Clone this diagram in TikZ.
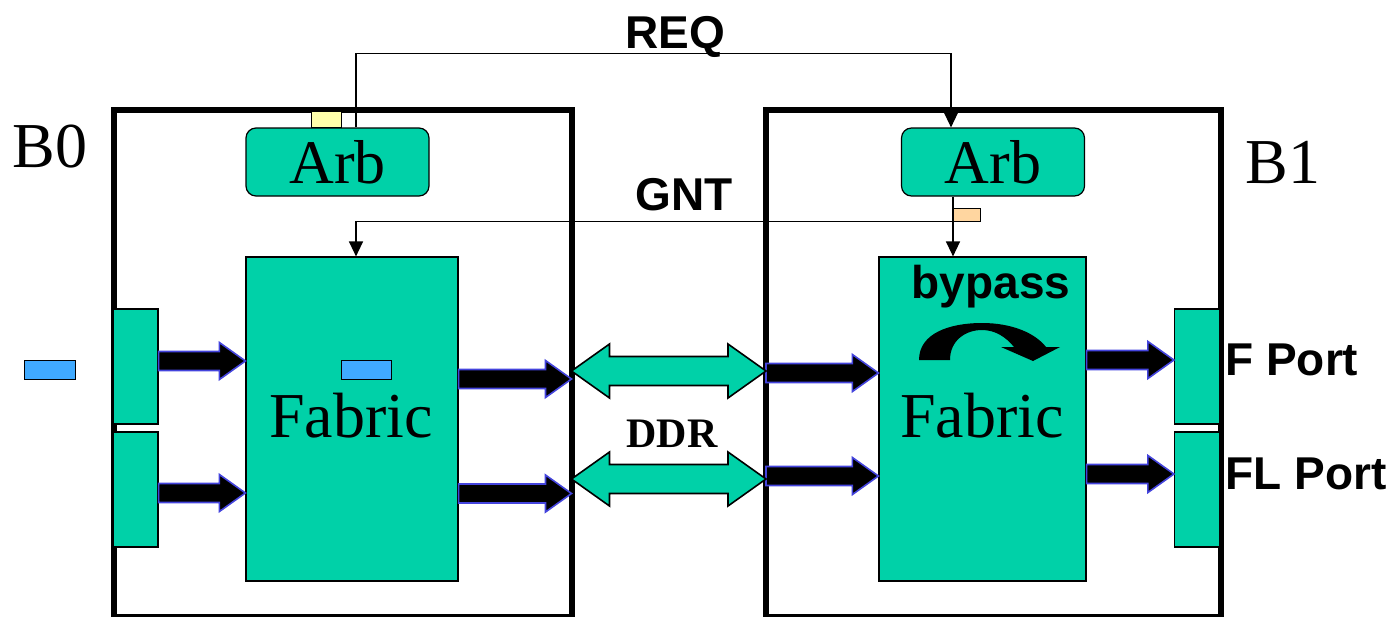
\documentclass[tikz,border=0pt]{standalone}
\usepackage{fontspec}
\setmainfont{Liberation Serif}
\setsansfont{Liberation Sans}
\usetikzlibrary{arrows.meta,calc}

\definecolor{fabgreen}{RGB}{0,209,168}
\definecolor{reqyellow}{RGB}{255,255,170}
\definecolor{gntorange}{RGB}{255,214,160}
\definecolor{bufblue}{RGB}{64,170,255}
\definecolor{edgeblue}{RGB}{68,68,221}

\tikzset{
  blade/.style={draw,line width=3pt,inner sep=0pt,outer sep=0pt},
  unitbox/.style={draw,fill=fabgreen,line width=0.6pt,inner sep=0pt},
  arbbox/.style={unitbox,rounded corners=5pt,minimum width=91.5pt,minimum height=34pt,font=\fontsize{31}{36}\selectfont},
  fabbox/.style={unitbox,minimum height=162pt},
  portbox/.style={unitbox,minimum width=22.5pt,minimum height=57.5pt},
  flagbox/.style={draw,line width=0.5pt,inner sep=0pt},
  sig/.style={line width=0.7pt,-{Triangle[length=7.5pt,width=7pt]}},
  fatarrow/.style={fill=black,draw=edgeblue,line width=0.8pt},
  ddrarrow/.style={fill=fabgreen,draw=black,line width=0.8pt},
  serifcap/.style={font=\fontsize{32}{38}\selectfont,inner sep=0pt},
  ddrtext/.style={font=\bfseries\fontsize{21}{25}\selectfont,inner sep=0pt},
  sigtag/.style={font=\sffamily\bfseries\fontsize{23}{27}\selectfont,inner sep=0pt},
}

% horizontal block arrow: starts at #1, tip at the x of #2
\newcommand{\fatarrow}[2]{%
  \draw[fatarrow] let \p1=(#1), \p2=(#2) in
    (\x1,\y1+4.75pt) -- (\x2-13pt,\y1+4.75pt) -- (\x2-13pt,\y1+9.25pt) -- (\x2,\y1)
    -- (\x2-13pt,\y1-9.25pt) -- (\x2-13pt,\y1-4.75pt) -- (\x1,\y1-4.75pt) -- cycle;}
\newcommand{\ddrarrow}[2]{%
  \draw[ddrarrow] let \p1=(#1), \p2=(#2) in
    (\x1,\y1) -- (\x1+19pt,\y1+13.5pt) -- (\x1+19pt,\y1+7.25pt) -- (\x2-19pt,\y1+7.25pt)
    -- (\x2-19pt,\y1+13.5pt) -- (\x2,\y1) -- (\x2-19pt,\y1-13.5pt) -- (\x2-19pt,\y1-7.25pt)
    -- (\x1+19pt,\y1-7.25pt) -- (\x1+19pt,\y1-13.5pt) -- cycle;}

\begin{document}
\begin{tikzpicture}[x=0.5pt,y=-0.5pt]
  \useasboundingbox (0,0) rectangle (1391,616);
  % blades
  \node[blade,minimum width=229pt,minimum height=253.5pt] (b0) at (342.5,363.5) {};
  \node[blade,minimum width=227.25pt,minimum height=253.5pt] (b1) at (993.25,363.5) {};
  \node[serifcap,anchor=base west] (b0lbl) at (12,167) {B0};
  \node[serifcap,anchor=base west] (b1lbl) at (1245,183) {B1};
  % arbiters, fabrics, ports
  \node[arbbox] (arb0) at (337.5,162) {Arb};
  \node[arbbox] (arb1) at (993,162) {Arb};
  \node[fabbox,minimum width=106pt] (fab0) at (352,419) {};
  \node[fabbox,minimum width=103.5pt] (fab1) at (982.5,419) {};
  \node[serifcap,anchor=base] (fab0lbl) at (351,437) {Fabric};
  \node[serifcap,anchor=base] (fab1lbl) at (982,437) {Fabric};
  \node[portbox] (p0a) at (135.5,366.5) {};
  \node[portbox] (p0b) at (135.5,489.5) {};
  \node[portbox] (p1a) at (1197,366.5) {};
  \node[portbox] (p1b) at (1197,489.5) {};

  % REQ / GNT
  \draw[sig] ([xshift=9.25pt]arb0.north) -- ++(0,-74) -| ([xshift=-21pt]arb1.north);
  \draw[sig] ([xshift=-20pt]arb1.south) coordinate (g1) -- (g1 |- fab1.north);
  \node[flagbox,fill=reqyellow,minimum width=15pt,minimum height=8pt] (reqflag) at (326,119) {};
  \node[flagbox,fill=gntorange,minimum width=13.5pt,minimum height=6.5pt] (gntflag) at (966.5,214.5) {};
  \draw[sig] (g1 |- gntflag.south) -| ([xshift=2pt]fab0.north);
  \node[sigtag,anchor=base] (reqlbl) at (675,48) {REQ};
  \node[sigtag,anchor=base] (gntlbl) at (684,210) {GNT};

  \node[flagbox,fill=bufblue,minimum width=25.5pt,minimum height=9.5pt] (buf0) at (49.5,369.5) {};
  \node[flagbox,fill=bufblue,minimum width=25pt,minimum height=9.5pt] (buf1) at (366,369.5) {};

  % data paths
  \fatarrow{[yshift=2.75pt]p0a.east}{fab0.west}
  \fatarrow{[yshift=-1.75pt]p0b.east}{fab0.west}
  \fatarrow{[yshift=20pt]fab0.east}{b0.east}
  \fatarrow{[yshift=-37.25pt]fab0.east}{b0.east}
  \fatarrow{[yshift=-4.75pt]b1.west}{fab1.west}
  \fatarrow{[yshift=-56.25pt]b1.west}{fab1.west}
  \fatarrow{[yshift=29.5pt]fab1.east}{p1a.west}
  \fatarrow{[yshift=-27.5pt]fab1.east}{p1b.west}
  \ddrarrow{[yshift=-3.75pt]b0.east}{b1.west}
  \ddrarrow{[yshift=-57.75pt]b0.east}{b1.west}
  \node[ddrtext,anchor=base] (ddrlbl) at (672,447) {DDR};

  % bypass
  \node[sigtag,anchor=base] (bypasslbl) at (991,298) {bypass};
  \fill (919,360) .. controls (919,333) and (950,323) .. (982,323)
    .. controls (1012,323) and (1035,333) .. (1046,347) -- (1060,347) -- (1033,361)
    -- (1001,347) -- (1014,347) .. controls (1006,337) and (995,330) .. (982,330)
    .. controls (966,330) and (950,340) .. (950,360) -- cycle;

  \node[sigtag,anchor=base west] (fport) at (1225,375) {F Port};
  \node[sigtag,anchor=base west] (flport) at (1225,489) {FL Port};
\end{tikzpicture}
\end{document}
